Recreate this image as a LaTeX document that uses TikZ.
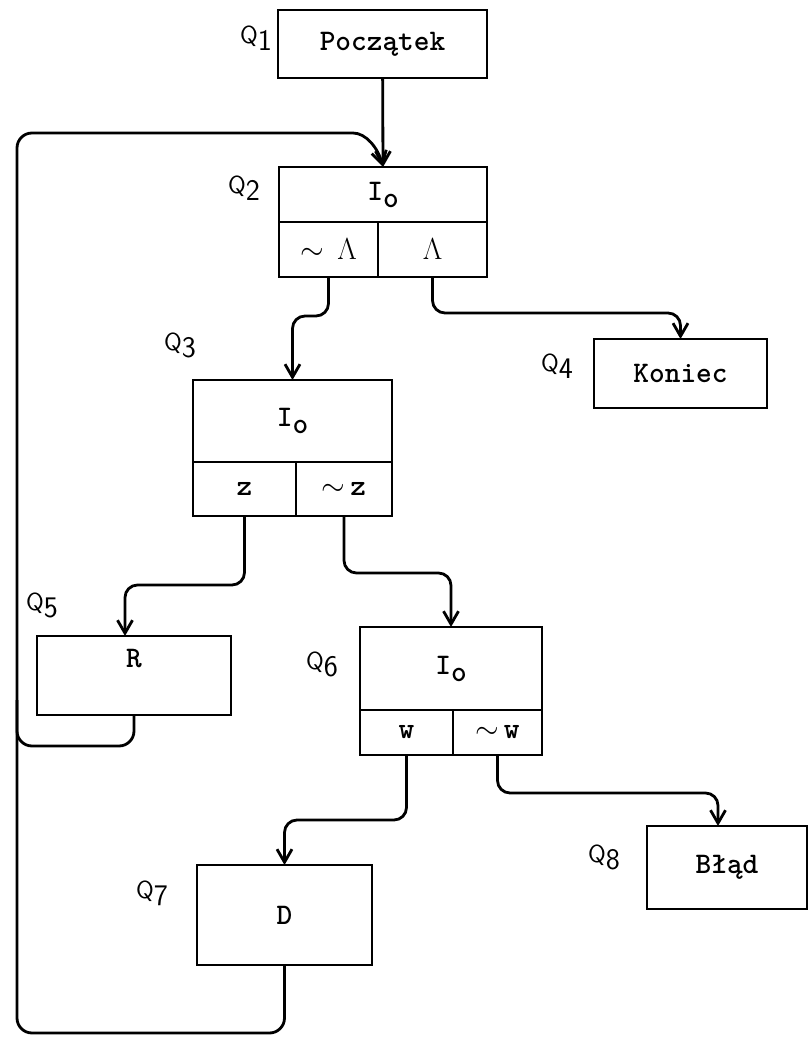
\documentclass[tikz,border=0pt]{standalone}
\usepackage{tikz}
\usetikzlibrary{arrows.meta}
\newcommand{\ql}[1]{{\fontsize{14}{16}\selectfont Q}\raisebox{-1.4mm}{\fontsize{17}{19}\selectfont #1}}
\newcommand{\Io}{I\raisebox{-1.4mm}{o}}

\begin{document}
\begin{tikzpicture}[x=0.2mm,y=-0.2mm,line width=1.6pt,
  blk/.style={draw,inner sep=0pt,outer sep=0pt,font=\ttfamily\bfseries\fontsize{17}{20}\selectfont},
  qlab/.style={font=\sffamily,inner sep=0pt},
  arr/.style={-{Straight Barb[length=2.6mm,width=3mm]}},
  turn/.style={arr,rounded corners=2.5mm}]
  \useasboundingbox (0,0) rectangle (811,1038);
  \node[blk,minimum width=41.8mm,minimum height=13.6mm] (q1) at (382.5,44) {Początek};
  \node[blk,minimum width=41.6mm,minimum height=11mm] (q2) at (383,194.5) {\Io};
  \node[blk,minimum width=19.8mm,minimum height=11mm,anchor=north west] (q2l) at (q2.south west) {$\sim\,\Lambda$};
  \node[blk,minimum width=21.8mm,minimum height=11mm,anchor=north east] (q2r) at (q2.south east) {$\Lambda$};
  \node[blk,minimum width=34.6mm,minimum height=13.8mm] (q4) at (680.5,373.5) {Koniec};
  \node[blk,minimum width=39.8mm,minimum height=16.4mm] (q3) at (292.5,421) {\Io};
  \node[blk,minimum width=20.6mm,minimum height=10.8mm,anchor=north west] (q3l) at (q3.south west) {z};
  \node[blk,minimum width=19.2mm,minimum height=10.8mm,anchor=north east] (q3r) at (q3.south east) {$\sim$\,z};
  \node[blk,minimum width=38.8mm,minimum height=15.8mm,text depth=6.8mm] (q5) at (134,675.5) {R};
  \node[blk,minimum width=36.4mm,minimum height=16.6mm] (q6) at (451,668.5) {\Io};
  \node[blk,minimum width=18.6mm,minimum height=9mm,anchor=north west] (q6l) at (q6.south west) {w};
  \node[blk,minimum width=17.8mm,minimum height=9mm,anchor=north east] (q6r) at (q6.south east) {$\sim$\,w};
  \node[blk,minimum width=35mm,minimum height=20mm] (q7) at (284.5,915) {D};
  \node[blk,minimum width=32mm,minimum height=16.6mm] (q8) at (727,867.5) {Błąd};

  \node[qlab] (l1) at (256,38) {\ql{1}};
  \node[qlab] (l2) at (244,188) {\ql{2}};
  \node[qlab] (l3) at (180,345) {\ql{3}};
  \node[qlab] (l4) at (557,366) {\ql{4}};
  \node[qlab] (l5) at (42,605) {\ql{5}};
  \node[qlab] (l6) at (322,664) {\ql{6}};
  \node[qlab] (l7) at (152,893) {\ql{7}};
  \node[qlab] (l8) at (604,857) {\ql{8}};

  \coordinate (lb) at (17,1033); \coordinate (lt) at (17,133); \coordinate (lr) at (338,133); \coordinate (lm) at (17,746);
  \draw[arr] (q1) -- (q2.north);
  \draw[arr,rounded corners=3mm] (q7.south) |- (lb) -- (lt) -- (lr) .. controls (366,133) and (378,148) .. (q2.north);
  \draw[rounded corners=3mm] (q5.south) |- (lm) -- (17,700);
  \draw[turn] (q2l.south) -- ++(0,39) -| (q3.north);
  \draw[turn] (q2r.south) -- ++(0,36) -| (q4.north);
  \draw[turn] (q3l.south) -- ++(0,69) -| ([xshift=-1.8mm]q5.north);
  \draw[turn] (q3r.south) -- ++(0,57) -| (q6.north);
  \draw[turn] (q6l.south) -- ++(0,65) -| (q7.north);
  \draw[turn] (q6r.south) -- ++(0,38) -| ([xshift=-1.8mm]q8.north);
\end{tikzpicture}
\end{document}
